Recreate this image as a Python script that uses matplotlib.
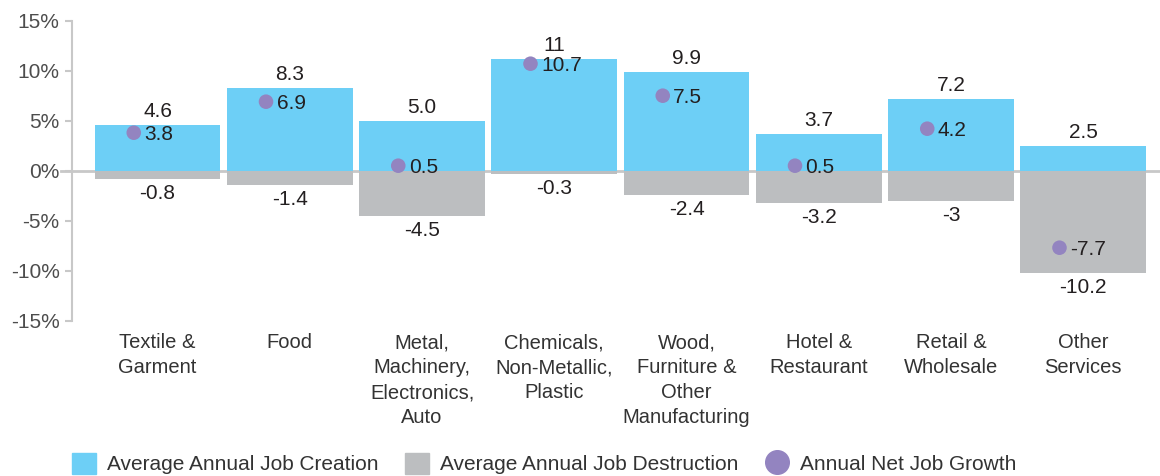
import numpy as np
import matplotlib
matplotlib.use("Agg")
import matplotlib.pyplot as plt
from matplotlib.patches import Patch
from matplotlib.lines import Line2D

plt.rcParams['font.family'] = ['Liberation Sans', 'DejaVu Sans']

categories = ["Textile &\nGarment", "Food", "Metal,\nMachinery,\nElectronics,\nAuto",
              "Chemicals,\nNon-Metallic,\nPlastic", "Wood,\nFurniture &\nOther\nManufacturing",
              "Hotel &\nRestaurant", "Retail &\nWholesale", "Other\nServices"]
# bar heights, labels as printed
creation = [4.6, 8.3, 5.0, 11.2, 9.9, 3.7, 7.2, 2.5]
creation_lbl = ["4.6", "8.3", "5.0", "11", "9.9", "3.7", "7.2", "2.5"]
destruction = [-0.8, -1.4, -4.5, -0.3, -2.4, -3.2, -3, -10.2]
destruction_lbl = ["-0.8", "-1.4", "-4.5", "-0.3", "-2.4", "-3.2", "-3", "-10.2"]
net = [3.8, 6.9, 0.5, 10.7, 7.5, 0.5, 4.2, -7.7]
net_lbl = ["3.8", "6.9", "0.5", "10.7", "7.5", "0.5", "4.2", "-7.7"]
yticks = [-15, -10, -5, 0, 5, 10, 15]

blue = "#6dcff6"
grey = "#bcbec0"
purple = "#9384c0"
dark = "#231f20"
axis_grey = "#c8c8c8"

fig = plt.figure(figsize=(11.6, 4.76), dpi=100)
ax = fig.add_axes([72/1160, 1-320.7/476, 1-72/1160, (320.7-20.7)/476])

x = np.arange(len(categories))
w = 0.95
ax.bar(x, creation, width=w, color=blue, zorder=2)
ax.bar(x, destruction, width=w, color=grey, zorder=2)
ax.axhline(0, color=axis_grey, lw=2, zorder=1, xmin=-0.01, clip_on=False)
ax.scatter(x - 0.18, net, s=110, color=purple, zorder=3, edgecolors='none')

for i in range(len(x)):
    ax.annotate(creation_lbl[i], (x[i], creation[i]), xytext=(0, 3), textcoords='offset points',
                ha='center', va='bottom', fontsize=15, color=dark)
    ax.annotate(destruction_lbl[i], (x[i], destruction[i]), xytext=(0, -4), textcoords='offset points',
                ha='center', va='top', fontsize=15, color=dark)
    ax.annotate(net_lbl[i], (x[i] - 0.1, net[i]), ha='left', va='center_baseline', fontsize=15, color=dark)

ax.set_xlim(-0.647, 7.58)
ax.set_ylim(-15, 15)
ax.set_yticks(yticks)
ax.set_yticklabels([f"{t}%" for t in yticks], fontsize=15, color="#4d4d4d")
ax.set_xticks(x)
ax.set_xticklabels(categories, fontsize=14.5, color="#333333", linespacing=1.4, va='top')
ax.tick_params(axis='x', length=0, pad=9)
ax.tick_params(axis='y', length=5, width=1.5, color=axis_grey, pad=4)
for s in ['top', 'right', 'bottom']:
    ax.spines[s].set_visible(False)
ax.spines['left'].set_color(axis_grey)
ax.spines['left'].set_linewidth(1.5)

handles = [Patch(color=blue), Patch(color=grey),
           Line2D([], [], marker='o', color=purple, ls='none', markersize=17)]
labels = ["Average Annual Job Creation", "Average Annual Job Destruction", "Annual Net Job Growth"]
fig.legend(handles, labels, loc='lower left', bbox_to_anchor=(64/1160, -0.014), ncol=3, frameon=False,
           fontsize=15, handlelength=1.15, handleheight=1.15, handletextpad=0.5,
           columnspacing=1.3, labelcolor="#333333", borderaxespad=0)

fig.savefig("out.png", dpi=100)
